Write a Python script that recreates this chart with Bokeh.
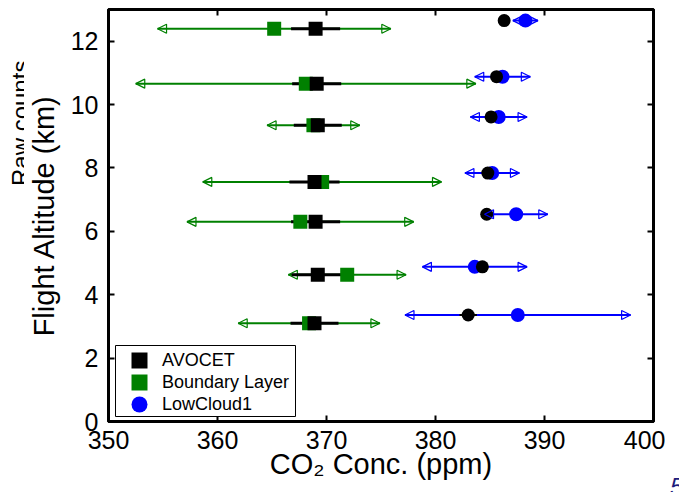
from bokeh.plotting import figure
from bokeh.models import (ColumnDataSource, Whisker, NormalHead, Legend, LegendItem,
                          LinearAxis, FixedTicker, BoxAnnotation, Range1d,
                          CustomJSTickFormatter, Div)
from bokeh.layouts import row
from bokeh.embed import file_html
from bokeh.resources import INLINE

# ---------------- data ----------------
# square markers (AVOCET vs Boundary Layer)
alt_sq = [12.39, 10.66, 9.35, 7.56, 6.30, 4.63, 3.10]
avocet_sq = [369.0, 369.1, 369.2, 368.9, 369.0, 369.2, 368.9]
avocet_sq_err = [2.25, 2.25, 2.2, 2.3, 2.25, 2.4, 2.2]
bl_co2 = [365.2, 368.1, 368.8, 369.6, 367.6, 371.9, 368.4]
bl_err = [10.7, 15.6, 4.25, 10.95, 10.4, 5.4, 6.5]

# circle markers (AVOCET vs LowCloud1)
alt_cl = [12.65, 10.88, 9.61, 7.84, 6.54, 4.88, 3.36]
avocet_cl = [386.3, 385.6, 385.1, 384.8, 384.7, 384.3, 383.0]
avocet_cl_err = [0.5, 0.5, 0.5, 0.5, 0.5, 0.5, 0.8]
lc_co2 = [388.25, 386.15, 385.8, 385.2, 387.4, 383.6, 387.55]
lc_err = [1.15, 2.55, 2.6, 2.5, 2.9, 4.8, 10.35]

x_ticks = [350, 360, 370, 380, 390, 400]
y_ticks = [0, 2, 4, 6, 8, 10, 12]

series_names = ["AVOCET", "Boundary Layer", "LowCloud1"]

GREEN = "#008000"
BLUE = "#0000ff"
FONT = "Liberation Sans"


def src(y, x, e):
    return ColumnDataSource(dict(y=y, x=x,
                                 lo=[a - b for a, b in zip(x, e)],
                                 hi=[a + b for a, b in zip(x, e)]))


s_avsq = src(alt_sq, avocet_sq, avocet_sq_err)
s_bl = src(alt_sq, bl_co2, bl_err)
s_avcl = src(alt_cl, avocet_cl, avocet_cl_err)
s_lc = src(alt_cl, lc_co2, lc_err)

# ---------------- main figure ----------------
p = figure(width=641, height=492, x_range=Range1d(350, 400), y_range=Range1d(0, 13),
           output_backend="svg", toolbar_location=None,
           min_border_left=84, min_border_right=12, min_border_top=9, min_border_bottom=71)
p.grid.visible = False
p.outline_line_color = "black"
p.outline_line_width = 3
p.background_fill_color = "white"
p.border_fill_color = "white"

bottom_ax = p.below[0]
left_ax = p.left[0]
bottom_ax.ticker = FixedTicker(ticks=x_ticks)
left_ax.ticker = FixedTicker(ticks=y_ticks)

top_ax = LinearAxis(ticker=FixedTicker(ticks=x_ticks),
                    formatter=CustomJSTickFormatter(code="return ''"))
right_ax = LinearAxis(ticker=FixedTicker(ticks=y_ticks),
                      formatter=CustomJSTickFormatter(code="return ''"))
p.add_layout(top_ax, "above")
p.add_layout(right_ax, "right")

for ax in [bottom_ax, left_ax, top_ax, right_ax]:
    ax.axis_line_color = "black"
    ax.axis_line_width = 3
    ax.major_tick_in = 6
    ax.major_tick_out = 0
    ax.major_tick_line_width = 2
    ax.minor_tick_line_color = None
    ax.major_label_text_font = FONT
    ax.major_label_text_color = "black"

for ax in [top_ax, right_ax]:
    ax.major_label_text_font_size = "1px"
    ax.major_label_standoff = 0

bottom_ax.major_label_text_font_size = "25px"
bottom_ax.major_label_standoff = 9
bottom_ax.axis_label = "CO\u2082 Conc. (ppm)"
bottom_ax.axis_label_text_font = FONT
bottom_ax.axis_label_text_font_size = "29px"
bottom_ax.axis_label_text_font_style = "normal"
bottom_ax.axis_label_text_color = "black"
bottom_ax.axis_label_standoff = -4

left_ax.major_label_text_font_size = "25px"
left_ax.major_label_standoff = 10
left_ax.axis_label = "Flight Altitude (km)"
left_ax.axis_label_text_font = FONT
left_ax.axis_label_text_font_size = "29px"
left_ax.axis_label_text_font_style = "normal"
left_ax.axis_label_text_color = "black"
left_ax.axis_label_standoff = 8

# green (Boundary Layer) error bars with open arrow heads
wg = Whisker(source=s_bl, base="y", lower="lo", upper="hi", dimension="width",
             line_color=GREEN, line_width=2, level="underlay",
             lower_head=NormalHead(size=9, fill_color=None, line_color=GREEN, line_width=1.2),
             upper_head=NormalHead(size=9, fill_color=None, line_color=GREEN, line_width=1.2))
p.add_layout(wg)

# AVOCET (square) error bars
p.segment(x0="lo", y0="y", x1="hi", y1="y", source=s_avsq, line_color="black", line_width=3)
r_bl = p.rect(x="x", y="y", width=14, height=14, width_units="screen", height_units="screen",
              source=s_bl, fill_color=GREEN, line_color=None)
r_av = p.rect(x="x", y="y", width=14, height=14, width_units="screen", height_units="screen",
              source=s_avsq, fill_color="black", line_color=None)

# LowCloud1 error bar lines and markers
p.segment(x0="lo", y0="y", x1="hi", y1="y", source=s_lc, line_color=BLUE, line_width=2)
r_lc = p.ellipse(x="x", y="y", width=14, height=14, width_units="screen", height_units="screen",
                 source=s_lc, fill_color=BLUE, line_color=None)
p.segment(x0="lo", y0="y", x1="hi", y1="y", source=s_avcl, line_color="black", line_width=2)
p.ellipse(x="x", y="y", width=13, height=13, width_units="screen", height_units="screen",
          source=s_avcl, fill_color="black", line_color=None)

wb = Whisker(source=s_lc, base="y", lower="lo", upper="hi", dimension="width",
             line_alpha=0, level="annotation",
             lower_head=NormalHead(size=9, fill_color=None, line_color=BLUE, line_width=1.2),
             upper_head=NormalHead(size=9, fill_color=None, line_color=BLUE, line_width=1.2))
p.add_layout(wb)

# legend frame + legend
box = BoxAnnotation(left=7, right=187, bottom=5, top=76,
                    left_units="screen", right_units="screen",
                    bottom_units="screen", top_units="screen",
                    fill_color="white", fill_alpha=1, line_color="black", line_width=1,
                    line_alpha=1)
p.add_layout(box)

legend = Legend(items=[LegendItem(label=series_names[0], renderers=[r_av]),
                       LegendItem(label=series_names[1], renderers=[r_bl]),
                       LegendItem(label=series_names[2], renderers=[r_lc])],
                location=(21, 6), padding=5, spacing=0, margin=0,
                glyph_width=20, glyph_height=20, label_height=22, label_standoff=13,
                border_line_color=None, background_fill_alpha=0,
                label_text_font=FONT, label_text_font_size="18px", label_text_color="black")
p.add_layout(legend)

# ---------------- left strip with clipped "Raw counts" ----------------
left_html = (
    "<div style=\"position:relative;width:24px;height:492px;overflow:hidden;\">"
    "<div style=\"position:absolute;left:9px;top:186px;transform:rotate(-90deg);"
    "transform-origin:0 0;font-family:'Liberation Sans';font-size:24px;line-height:24px;"
    "white-space:nowrap;color:black;\">Raw counts</div></div>"
)
left_div = Div(text=left_html, width=24, height=492, margin=0,
               styles={"overflow": "hidden"})

# ---------------- right strip with clipped slide number ----------------
right_html = (
    "<div style=\"position:relative;width:14px;height:492px;overflow:hidden;\">"
    "<div style=\"position:absolute;left:5px;top:475px;font-family:'Liberation Sans';"
    "font-size:24px;line-height:24px;font-style:italic;color:#1c1c7c;"
    "white-space:nowrap;\">5</div></div>"
)
right_div = Div(text=right_html, width=14, height=492, margin=0,
                styles={"overflow": "hidden"})

layout = row(left_div, p, right_div)
open("out.html", "w").write(file_html(layout, INLINE))
